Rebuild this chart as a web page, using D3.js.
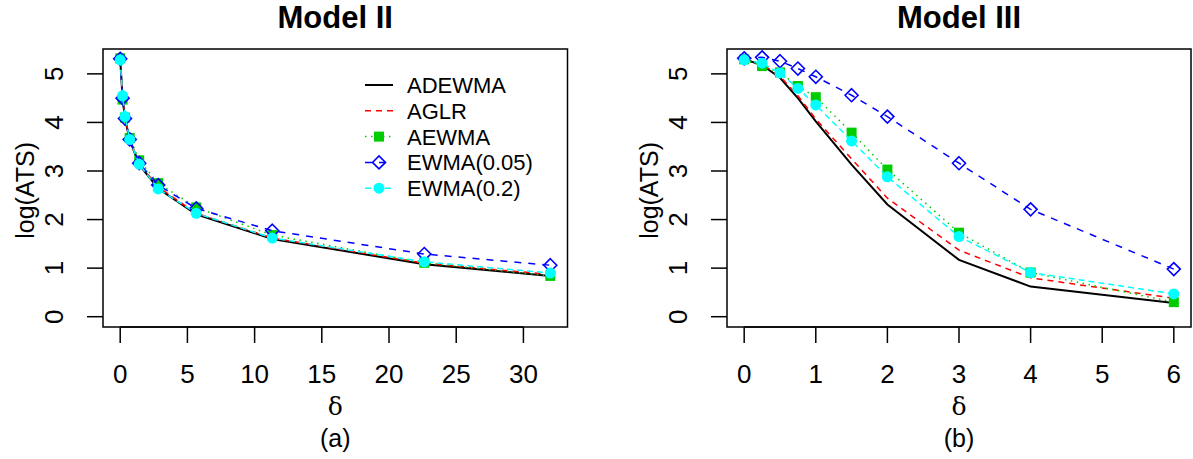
<!DOCTYPE html>
<html lang="en">
<head>
<meta charset="UTF-8">
<title>log(ATS) Model II / Model III</title>
<script src="https://d3js.org/d3.v7.min.js"></script>
<style>
    body { margin: 0; background: #fff; }
    svg { display: block; font-family: "Liberation Sans", Arial, sans-serif; }
</style>
</head>
<body>
<script>
    // ---- data ----
    var seriesNames = ['ADEWMA', 'AGLR', 'AEWMA', 'EWMA(0.05)', 'EWMA(0.2)'];

    var deltaII = [0, 0.177, 0.354, 0.707, 1.414, 2.828, 5.657, 11.314, 22.627, 32];
    var adewmaII = [5.3, 4.5, 4.08, 3.64, 3.13, 2.64, 2.11, 1.6, 1.08, 0.84];
    var aglrII = [5.3, 4.52, 4.1, 3.66, 3.15, 2.67, 2.13, 1.62, 1.1, 0.87];
    var aewmaII = [5.32, 4.47, 4.1, 3.68, 3.22, 2.75, 2.25, 1.68, 1.11, 0.84];
    var ewma05II = [5.31, 4.5, 4.08, 3.65, 3.16, 2.71, 2.23, 1.77, 1.29, 1.06];
    var ewma02II = [5.29, 4.55, 4.12, 3.65, 3.14, 2.63, 2.13, 1.62, 1.13, 0.9];
    var xTicksII = [0, 5, 10, 15, 20, 25, 30];

    var deltaIII = [0, 0.25, 0.5, 0.75, 1, 1.5, 2, 3, 4, 6];
    var adewmaIII = [5.3, 5.18, 4.92, 4.5, 4.02, 3.13, 2.31, 1.17, 0.62, 0.28];
    var aglrIII = [5.3, 5.2, 4.95, 4.55, 4.07, 3.25, 2.44, 1.37, 0.8, 0.38];
    var aewmaIII = [5.3, 5.16, 5.03, 4.75, 4.52, 3.79, 3.03, 1.73, 0.91, 0.3];
    var ewma05III = [5.32, 5.34, 5.26, 5.11, 4.94, 4.56, 4.12, 3.16, 2.21, 0.98];
    var ewma02III = [5.29, 5.22, 5.02, 4.7, 4.36, 3.62, 2.88, 1.65, 0.91, 0.47];
    var xTicksIII = [0, 1, 2, 3, 4, 5, 6];

    var yTicks = [0, 1, 2, 3, 4, 5];

    // ---- styles (one per series) ----
    var styles = [
        {color: '#000000', dash: null, width: 2, mark: 'none'},
        {color: '#FF0000', dash: '6,5', width: 1.5, mark: 'none'},
        {color: '#00CD00', dash: '1.5,4.5', width: 1.5, mark: 'square'},
        {color: '#0000FF', dash: '7,7', width: 1.5, mark: 'diamond'},
        {color: '#00FFFF', dash: '6,4', width: 1.5, mark: 'circle'}
    ];

    var W = 1193, H = 459;
    var svg = d3.select('body').append('svg')
        .attr('width', W)
        .attr('height', H);
    svg.append('rect').attr('width', W).attr('height', H).attr('fill', '#fff');

    function drawMark(g, type, x, y, color) {
        if (type === 'square') {
            g.append('rect')
                .attr('x', x - 5).attr('y', y - 5)
                .attr('width', 10).attr('height', 10)
                .attr('fill', color);
        } else if (type === 'diamond') {
            var r = 6.5;
            g.append('path')
                .attr('d', 'M' + x + ',' + (y - r) + 'L' + (x + r) + ',' + y + 'L' + x + ',' + (y + r) + 'L' + (x - r) + ',' + y + 'Z')
                .attr('fill', 'none')
                .attr('stroke', color)
                .attr('stroke-width', 1.6);
        } else if (type === 'circle') {
            g.append('circle')
                .attr('cx', x).attr('cy', y).attr('r', 5.5)
                .attr('fill', color);
        }
    }

    function drawPanel(p) {
        var x = d3.scaleLinear().domain(p.xDomain).range([p.left, p.right]);
        var y = d3.scaleLinear().domain([-0.212, 5.512]).range([327, 49]);
        var g = svg.append('g');

        // title
        g.append('text')
            .attr('x', (p.left + p.right) / 2)
            .attr('y', 28)
            .attr('text-anchor', 'middle')
            .attr('font-size', 31)
            .attr('font-weight', 'bold')
            .text(p.title);

        // x axis (line only between first and last tick, like R)
        var xa = g.append('g').attr('transform', 'translate(0,327)');
        xa.append('line')
            .attr('x1', x(p.xTicks[0])).attr('x2', x(p.xTicks[p.xTicks.length - 1]))
            .attr('stroke', '#000').attr('stroke-width', 1.5);
        xa.selectAll('.tk').data(p.xTicks).enter().append('line')
            .attr('x1', d => x(d)).attr('x2', d => x(d))
            .attr('y1', 0).attr('y2', 16)
            .attr('stroke', '#000').attr('stroke-width', 1.5);
        xa.selectAll('text').data(p.xTicks).enter().append('text')
            .attr('x', d => x(d))
            .attr('y', 56)
            .attr('text-anchor', 'middle')
            .attr('font-size', 26)
            .text(d => d);

        // y axis
        var ya = g.append('g').attr('transform', 'translate(' + p.left + ',0)');
        ya.selectAll('.tk').data(yTicks).enter().append('line')
            .attr('x1', -16).attr('x2', 0)
            .attr('y1', d => y(d)).attr('y2', d => y(d))
            .attr('stroke', '#000').attr('stroke-width', 1.5);
        ya.selectAll('text').data(yTicks).enter().append('text')
            .attr('transform', d => 'translate(-40,' + y(d) + ') rotate(-90)')
            .attr('text-anchor', 'middle')
            .attr('font-size', 26)
            .text(d => d);

        // axis titles
        g.append('text')
            .attr('transform', 'translate(' + (p.left - 78) + ',' + y(2.6) + ') rotate(-90)')
            .attr('text-anchor', 'middle')
            .attr('dy', '0.35em')
            .attr('font-size', 25)
            .text('log(ATS)');
        g.append('text')
            .attr('x', (p.left + p.right) / 2)
            .attr('y', 415)
            .attr('text-anchor', 'middle')
            .attr('font-family', '"DejaVu Serif", serif')
            .attr('font-size', 25)
            .text('\u03b4');
        g.append('text')
            .attr('x', (p.left + p.right) / 2)
            .attr('y', 447)
            .attr('text-anchor', 'middle')
            .attr('font-size', 25)
            .text(p.sub);

        // series lines
        var line = d3.line().x((d, i) => x(p.delta[i])).y(d => y(d));
        p.series.forEach(function (s, k) {
            var st = styles[k];
            g.append('path')
                .attr('d', line(s))
                .attr('fill', 'none')
                .attr('stroke', st.color)
                .attr('stroke-width', st.width)
                .attr('stroke-dasharray', st.dash);
            s.forEach(function (v, i) {
                drawMark(g, st.mark, x(p.delta[i]), y(v), st.color);
            });
        });

        // box
        g.append('rect')
            .attr('x', p.left).attr('y', 49)
            .attr('width', p.right - p.left).attr('height', 327 - 49)
            .attr('fill', 'none')
            .attr('stroke', '#000')
            .attr('stroke-width', 1.5);

        // legend
        if (p.legend) {
            var lg = g.append('g');
            seriesNames.forEach(function (name, k) {
                var st = styles[k];
                var ly = 85 + k * 25.8;
                lg.append('line')
                    .attr('x1', 365).attr('x2', 393)
                    .attr('y1', ly).attr('y2', ly)
                    .attr('stroke', st.color)
                    .attr('stroke-width', st.width)
                    .attr('stroke-dasharray', st.dash);
                drawMark(lg, st.mark, 379, ly, st.color);
                lg.append('text')
                    .attr('x', 407).attr('y', ly)
                    .attr('dy', '0.36em')
                    .attr('font-size', 22)
                    .text(name);
            });
        }
    }

    drawPanel({
        title: 'Model II', sub: '(a)',
        left: 103, right: 567.5,
        xDomain: [-1.28, 33.28],
        xTicks: xTicksII,
        delta: deltaII,
        series: [adewmaII, aglrII, aewmaII, ewma05II, ewma02II],
        legend: true
    });

    drawPanel({
        title: 'Model III', sub: '(b)',
        left: 727, right: 1191,
        xDomain: [-0.24, 6.24],
        xTicks: xTicksIII,
        delta: deltaIII,
        series: [adewmaIII, aglrIII, aewmaIII, ewma05III, ewma02III],
        legend: false
    });
</script>
</body>
</html>
